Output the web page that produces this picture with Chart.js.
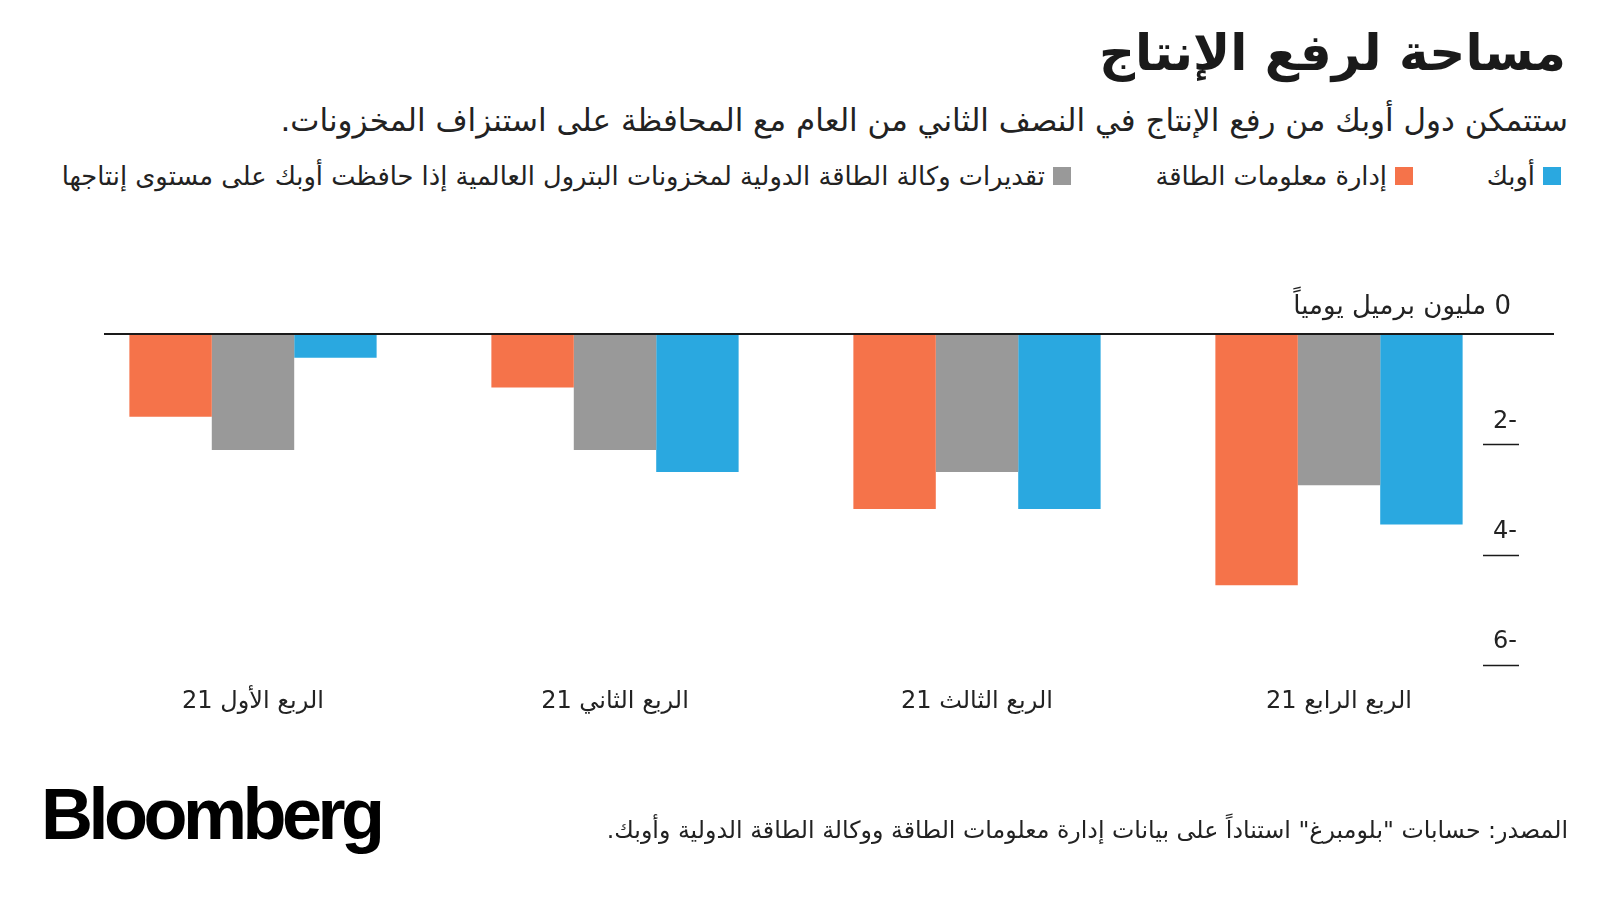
<!DOCTYPE html>
<html lang="ar">
<head>
<meta charset="utf-8">
<script src="https://cdn.jsdelivr.net/npm/chart.js@4.4.0/dist/chart.umd.min.js"></script>
<style>
  html, body { margin: 0; padding: 0; background: #fff; }
  body { width: 1600px; height: 900px; position: relative; overflow: hidden; font-family: "DejaVu Sans", sans-serif; color: #222; }
  #chart { position: absolute; left: 0; top: 0; }
  .txt { position: absolute; white-space: nowrap; direction: rtl; }
  #title { right: 34px; top: 24px; font-size: 50px; font-weight: bold; color: #1a1a1a; }
  #subtitle { right: 32px; top: 102px; font-size: 31px; }
  .legend-item { position: absolute; top: 161px; display: flex; align-items: center; direction: rtl; font-size: 25.7px; white-space: nowrap; }
  .legend-item span.box { display: inline-block; width: 18px; height: 18px; margin-left: 8px; }
  #source { right: 32px; top: 816px; font-size: 23.7px; }
  #logo { position: absolute; left: 41px; top: 773px; font-family: "Liberation Sans", Arial, sans-serif; font-weight: bold; font-size: 72px; letter-spacing: -4.5px; color: #000; direction: ltr; }
</style>
</head>
<body>
<div id="title" class="txt">مساحة لرفع الإنتاج</div>
<div id="subtitle" class="txt">ستتمكن دول أوبك من رفع الإنتاج في النصف الثاني من العام مع المحافظة على استنزاف المخزونات.</div>
<div id="legend"></div>
<canvas id="chart" width="1600" height="900"></canvas>
<div id="source" class="txt">المصدر: حسابات "بلومبرغ" استناداً على بيانات إدارة معلومات الطاقة ووكالة الطاقة الدولية وأوبك.</div>
<div id="logo">Bloomberg</div>
<script>
// categories, left to right
const quarters = ['الربع الأول 21', 'الربع الثاني 21', 'الربع الثالث 21', 'الربع الرابع 21'];

// million barrels per day
const eiaValues = [-1.5, -0.97, -3.17, -4.55];
const ieaValues = [-2.1, -2.1, -2.5, -2.74];
const opecValues = [-0.43, -2.5, -3.17, -3.45];

const eiaLabel = 'إدارة معلومات الطاقة';
const ieaLabel = 'تقديرات وكالة الطاقة الدولية لمخزونات البترول العالمية إذا حافظت أوبك على مستوى إنتاجها';
const opecLabel = 'أوبك';

const yTicks = [0, -2, -4, -6];
const zeroTickLabel = '0 مليون برميل يومياً';

const orange = '#f5734a';
const gray = '#999999';
const blue = '#2aa8e0';

// legend (right to left): opec, eia, iea
const legendItems = [
    { label: opecLabel, color: blue, right: 39 },
    { label: eiaLabel, color: orange, right: 187 },
    { label: ieaLabel, color: gray, right: 529 }
];
const legendEl = document.getElementById('legend');
legendItems.forEach(function (item) {
    const div = document.createElement('div');
    div.className = 'legend-item';
    div.style.right = item.right + 'px';
    div.innerHTML = '<span class="box" style="background:' + item.color + '"></span><span>' + item.label + '</span>';
    legendEl.appendChild(div);
});

// zero line and right-hand tick labels with their short underlines
const axisPlugin = {
    id: 'axisPlugin',
    afterDatasetsDraw(chart) {
        const ctx = chart.ctx;
        const y = chart.scales.y;
        ctx.save();
        ctx.strokeStyle = '#1a1a1a';
        ctx.lineWidth = 2;
        const y0 = Math.round(y.getPixelForValue(0));
        ctx.beginPath();
        ctx.moveTo(104, y0);
        ctx.lineTo(1554, y0);
        ctx.stroke();

        ctx.fillStyle = '#222';
        ctx.direction = 'rtl';
        ctx.textAlign = 'right';
        ctx.textBaseline = 'middle';
        ctx.lineWidth = 1.5;
        yTicks.forEach(function (v) {
            const py = y.getPixelForValue(v);
            if (v === 0) {
                ctx.font = '26px "DejaVu Sans", sans-serif';
                ctx.fillText(zeroTickLabel, 1511, py - 27);
            } else {
                ctx.font = '24px "DejaVu Sans", sans-serif';
                ctx.fillText(String(v), 1517, py - 23);
                ctx.beginPath();
                ctx.moveTo(1483, Math.round(py) + 0.5);
                ctx.lineTo(1519, Math.round(py) + 0.5);
                ctx.stroke();
            }
        });
        ctx.restore();
    }
};

const ctx = document.getElementById('chart').getContext('2d');
const chart = new Chart(ctx, {
    type: 'bar',
    data: {
        labels: quarters,
        datasets: [
            { label: eiaLabel, data: eiaValues, backgroundColor: orange },
            { label: ieaLabel, data: ieaValues, backgroundColor: gray },
            { label: opecLabel, data: opecValues, backgroundColor: blue }
        ]
    },
    options: {
        responsive: false,
        animation: false,
        layout: {
            padding: { left: 72, right: 80, top: 334, bottom: 162 }
        },
        datasets: {
            bar: {
                barPercentage: 1,
                categoryPercentage: 0.683,
                borderWidth: 0
            }
        },
        scales: {
            x: {
                grid: { display: false, drawTicks: false },
                border: { display: false },
                ticks: {
                    color: '#222',
                    padding: 22,
                    font: { family: '"DejaVu Sans", sans-serif', size: 24 }
                }
            },
            y: {
                display: false,
                min: -6,
                max: 0
            }
        },
        plugins: {
            legend: { display: false },
            tooltip: { enabled: false }
        }
    },
    plugins: [axisPlugin]
});
</script>
</body>
</html>
